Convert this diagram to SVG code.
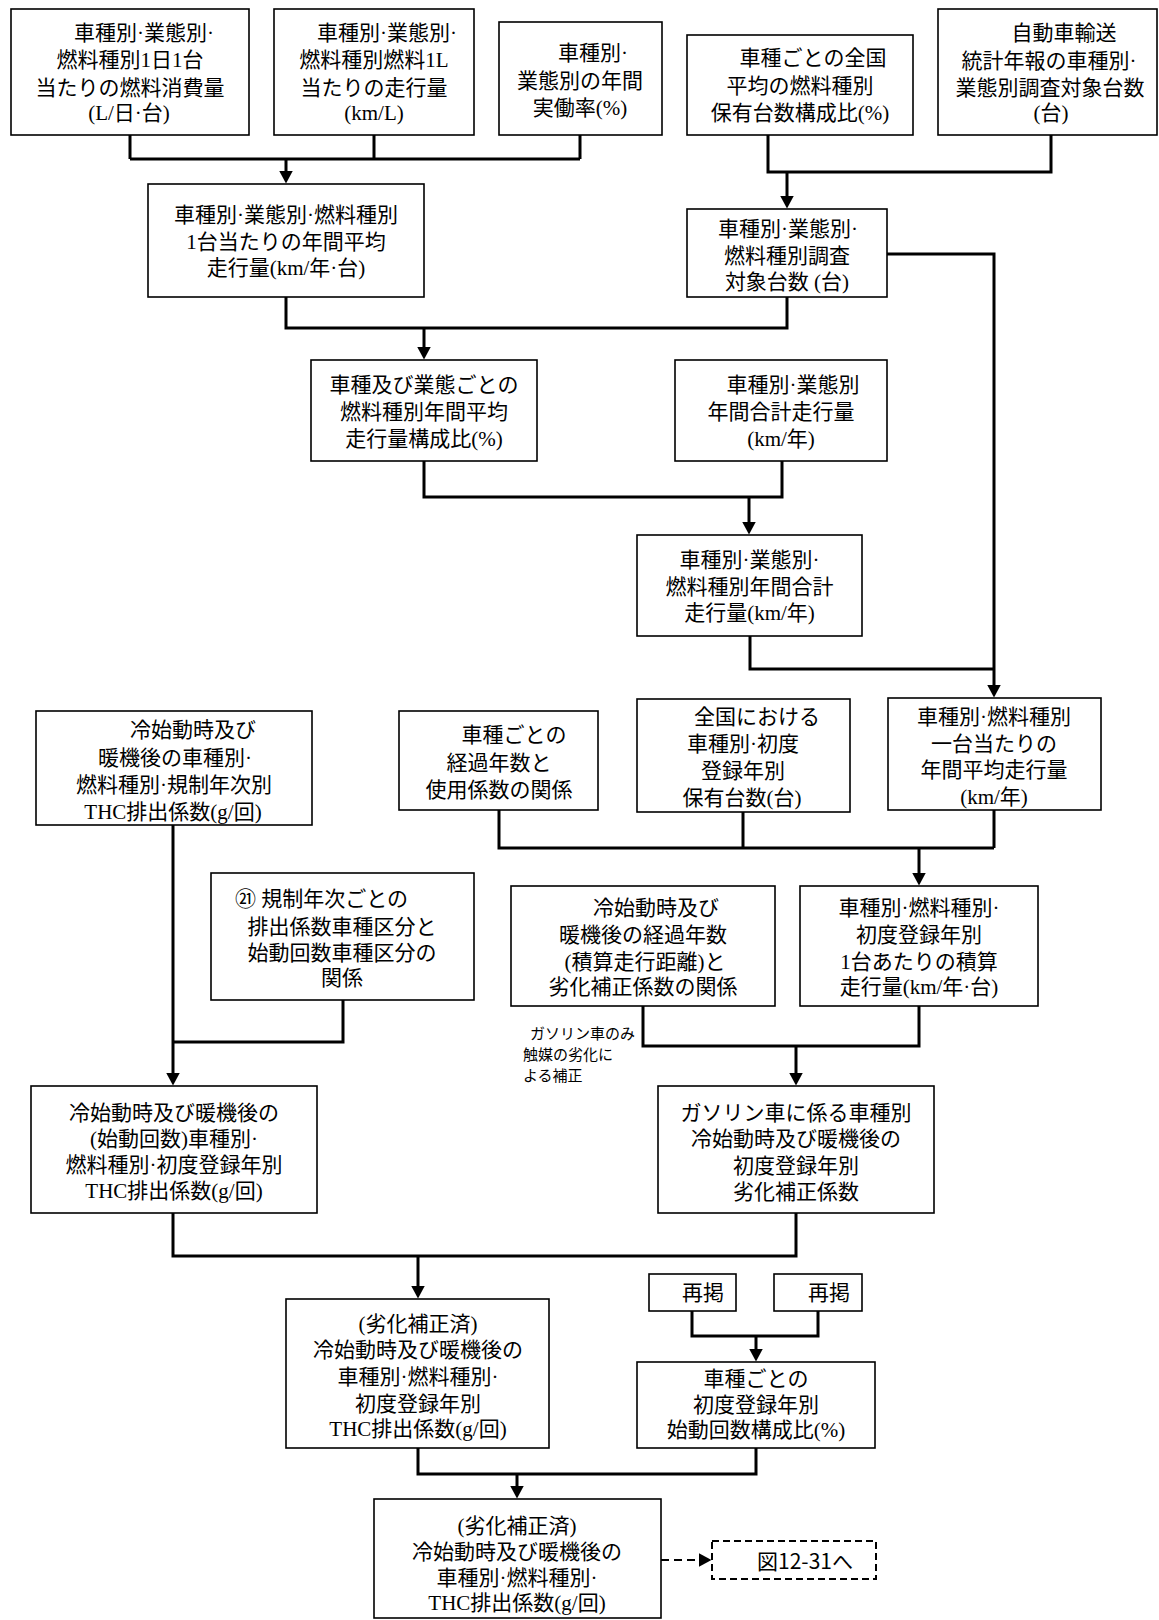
<svg xmlns="http://www.w3.org/2000/svg" width="1159" height="1620" viewBox="0 0 1159 1620">
<style>
.b{fill:#fff;stroke:#000;stroke-width:1.6}
.d{fill:#fff;stroke:#000;stroke-width:2;stroke-dasharray:7 4}
.t{font-family:"Liberation Serif","Noto Sans CJK JP",sans-serif;font-size:21px;text-anchor:middle;dominant-baseline:central;fill:#000}
.s{font-family:"Noto Sans CJK JP","Noto Sans",sans-serif;font-size:15px;dominant-baseline:central;fill:#000}
.g{font-family:"Noto Sans CJK JP","Noto Sans",sans-serif;font-size:21px;text-anchor:middle;dominant-baseline:central;fill:#000}
.c{fill:none;stroke:#000;stroke-width:3}
.a{fill:none;stroke:#000;stroke-width:3;marker-end:url(#ah)}
.da{fill:none;stroke:#000;stroke-width:2.2;stroke-dasharray:8 5;marker-end:url(#ah)}
</style>
<defs>
<marker id="ah" viewBox="0 0 13 14" refX="0.5" refY="7" markerWidth="13" markerHeight="14" orient="auto" markerUnits="userSpaceOnUse"><path d="M0,0 L13,7 L0,14 z" fill="#000"/></marker>
</defs>
<rect width="1159" height="1620" fill="#fff"/>

<g id="connectors">
<path class="c" d="M130,135 V159 M374,135 V159 M580,135 V159 M130,159 H580"/>
<path class="a" d="M286,159 V171"/>
<path class="c" d="M768,135 V172 H1051 V135"/>
<path class="a" d="M787,172 V196"/>
<path class="c" d="M286,297 V328 H787 V297"/>
<path class="a" d="M424,328 V347"/>
<path class="c" d="M424,461 V497 H782 V461"/>
<path class="a" d="M749,497 V522"/>
<path class="a" d="M887,254 H994 V685"/>
<path class="c" d="M750,636 V669 H994"/>
<path class="c" d="M499,810 V848 H994 M743,812 V848 M994,810 V848"/>
<path class="a" d="M919,848 V873"/>
<path class="a" d="M173,825 V1073"/>
<path class="c" d="M343,1000 V1042 H173"/>
<path class="c" d="M643,1006 V1046 H919 V1006"/>
<path class="a" d="M796,1046 V1073"/>
<path class="c" d="M173,1213 V1256 H796 V1213"/>
<path class="a" d="M418,1256 V1286"/>
<path class="c" d="M692,1311 V1336 H818 V1311"/>
<path class="a" d="M756,1336 V1349"/>
<path class="c" d="M418,1448 V1474 H756 V1448"/>
<path class="a" d="M517,1474 V1486"/>
<path class="da" d="M661,1560 H699"/>
</g>

<g id="nA"><rect class="b" x="11" y="9" width="238" height="126"/>
<text class="t" x="144" y="33">車種別·業態別·</text><text class="t" x="130" y="60">燃料種別1日1台</text><text class="t" x="130" y="87.5">当たりの燃料消費量</text><text class="t" x="129" y="113">(L/日·台)</text></g>

<g id="nB"><rect class="b" x="274" y="9" width="200" height="126"/>
<text class="t" x="387" y="33">車種別·業態別·</text><text class="t" x="374" y="60">燃料種別燃料1L</text><text class="t" x="374" y="87.5">当たりの走行量</text><text class="t" x="374" y="113">(km/L)</text></g>

<g id="nC"><rect class="b" x="499" y="22" width="163" height="113"/>
<text class="t" x="593" y="53">車種別·</text><text class="t" x="580" y="81">業態別の年間</text><text class="t" x="580" y="108">実働率(%)</text></g>

<g id="nD"><rect class="b" x="687" y="35" width="226" height="100"/>
<text class="t" x="813" y="58">車種ごとの全国</text><text class="t" x="800" y="86">平均の燃料種別</text><text class="t" x="800" y="113">保有台数構成比(%)</text></g>

<g id="nE"><rect class="b" x="938" y="9" width="219" height="126"/>
<text class="t" x="1064" y="33">自動車輸送</text><text class="t" x="1049" y="61">統計年報の車種別·</text><text class="t" x="1050" y="88">業態別調査対象台数</text><text class="t" x="1051" y="113">(台)</text></g>

<g id="nF"><rect class="b" x="148" y="184" width="276" height="113"/>
<text class="t" x="286" y="215">車種別·業態別·燃料種別</text><text class="t" x="286" y="242">1台当たりの年間平均</text><text class="t" x="286" y="268">走行量(km/年·台)</text></g>

<g id="nG"><rect class="b" x="687" y="209" width="200" height="88"/>
<text class="t" x="788" y="229">車種別·業態別·</text><text class="t" x="787" y="256">燃料種別調査</text><text class="t" x="787" y="282">対象台数 (台)</text></g>

<g id="nH"><rect class="b" x="311" y="360" width="226" height="101"/>
<text class="t" x="424" y="385">車種及び業態ごとの</text><text class="t" x="424" y="412">燃料種別年間平均</text><text class="t" x="424" y="439">走行量構成比(%)</text></g>

<g id="nI"><rect class="b" x="675" y="360" width="212" height="101"/>
<text class="t" x="793" y="385">車種別·業態別</text><text class="t" x="781" y="412">年間合計走行量</text><text class="t" x="781" y="439">(km/年)</text></g>

<g id="nJ"><rect class="b" x="637" y="535" width="225" height="101"/>
<text class="t" x="749.5" y="560">車種別·業態別·</text><text class="t" x="749.5" y="587">燃料種別年間合計</text><text class="t" x="749.5" y="613">走行量(km/年)</text></g>

<g id="nK"><rect class="b" x="888" y="698" width="213" height="112"/>
<text class="t" x="994" y="717">車種別·燃料種別</text><text class="t" x="994" y="743.5">一台当たりの</text><text class="t" x="994" y="770">年間平均走行量</text><text class="t" x="994" y="797">(km/年)</text></g>

<g id="nN"><rect class="b" x="637" y="699" width="213" height="113"/>
<text class="t" x="757" y="717">全国における</text><text class="t" x="743" y="744">車種別·初度</text><text class="t" x="743" y="771">登録年別</text><text class="t" x="742" y="798">保有台数(台)</text></g>

<g id="nM"><rect class="b" x="399" y="711" width="199" height="99"/>
<text class="t" x="514" y="735">車種ごとの</text><text class="t" x="499" y="763">経過年数と</text><text class="t" x="499" y="790">使用係数の関係</text></g>

<g id="nL"><rect class="b" x="36" y="711" width="276" height="114"/>
<text class="t" x="193" y="730">冷始動時及び</text><text class="t" x="175" y="758">暖機後の車種別·</text><text class="t" x="174" y="785">燃料種別·規制年次別</text><text class="t" x="173" y="812">THC排出係数(g/回)</text></g>

<g id="nO"><rect class="b" x="211" y="873" width="263" height="127"/>
<text class="t" x="235" y="899" style="text-anchor:start">㉑ 規制年次ごとの</text><text class="t" x="342" y="927">排出係数車種区分と</text><text class="t" x="342" y="953">始動回数車種区分の</text><text class="t" x="342" y="978">関係</text></g>

<g id="nQ"><rect class="b" x="511" y="886" width="264" height="120"/>
<text class="t" x="656" y="908">冷始動時及び</text><text class="t" x="643" y="935">暖機後の経過年数</text><text class="t" x="645" y="962">(積算走行距離)と</text><text class="t" x="643" y="987">劣化補正係数の関係</text></g>

<g id="nP"><rect class="b" x="800" y="886" width="238" height="120"/>
<text class="t" x="919" y="908">車種別·燃料種別·</text><text class="t" x="919" y="935">初度登録年別</text><text class="t" x="919" y="962">1台あたりの積算</text><text class="t" x="919" y="987">走行量(km/年·台)</text></g>

<g id="label">
<text class="s" x="530" y="1032">ガソリン車のみ</text><text class="s" x="523" y="1053">触媒の劣化に</text><text class="s" x="523" y="1074">よる補正</text></g>

<g id="nR"><rect class="b" x="31" y="1086" width="286" height="127"/>
<text class="t" x="174" y="1113">冷始動時及び暖機後の</text><text class="t" x="174" y="1139">(始動回数)車種別·</text><text class="t" x="174" y="1165">燃料種別·初度登録年別</text><text class="t" x="174" y="1191">THC排出係数(g/回)</text></g>

<g id="nS"><rect class="b" x="658" y="1086" width="276" height="127"/>
<text class="t" x="796" y="1113">ガソリン車に係る車種別</text><text class="t" x="796" y="1139">冷始動時及び暖機後の</text><text class="t" x="796" y="1166">初度登録年別</text><text class="t" x="796" y="1192">劣化補正係数</text></g>

<g id="nT"><rect class="b" x="286" y="1299" width="263" height="149"/>
<text class="t" x="418" y="1324">(劣化補正済)</text><text class="t" x="418" y="1350">冷始動時及び暖機後の</text><text class="t" x="418" y="1377">車種別·燃料種別·</text><text class="t" x="418" y="1404">初度登録年別</text><text class="t" x="418" y="1429">THC排出係数(g/回)</text></g>

<g id="nRe1"><rect class="b" x="649" y="1274" width="87" height="37"/><text class="t" x="703" y="1293">再掲</text></g>
<g id="nRe2"><rect class="b" x="774" y="1274" width="88" height="37"/><text class="t" x="829" y="1293">再掲</text></g>

<g id="nU"><rect class="b" x="637" y="1362" width="238" height="86"/>
<text class="t" x="756" y="1379">車種ごとの</text><text class="t" x="756" y="1405">初度登録年別</text><text class="t" x="756" y="1430">始動回数構成比(%)</text></g>

<g id="nV"><rect class="b" x="374" y="1499" width="287" height="119"/>
<text class="t" x="517" y="1526">(劣化補正済)</text><text class="t" x="517" y="1552">冷始動時及び暖機後の</text><text class="t" x="517" y="1578">車種別·燃料種別·</text><text class="t" x="517" y="1603">THC排出係数(g/回)</text></g>

<g id="nW"><rect class="d" x="712" y="1541" width="164" height="38"/><text class="g" x="805" y="1560">図12-31へ</text></g>
</svg>
